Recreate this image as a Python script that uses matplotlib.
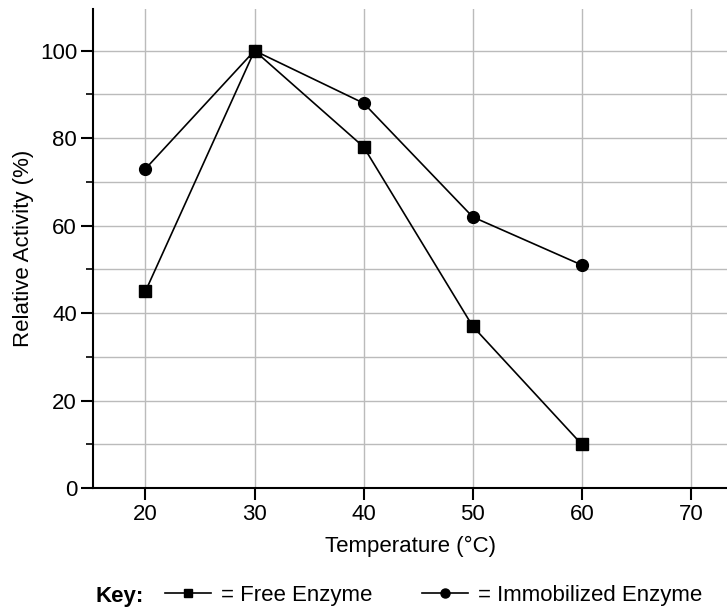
import numpy as np
import matplotlib
matplotlib.use('Agg')
import matplotlib.pyplot as plt
from matplotlib.lines import Line2D

plt.rcParams['font.family'] = ['Liberation Sans', 'DejaVu Sans']

temps = [20, 30, 40, 50, 60]
free_enzyme = [45, 100, 78, 37, 10]
immob_enzyme = [73, 100, 88, 62, 51]

x_ticks = [20, 30, 40, 50, 60, 70]
y_ticks = [0, 20, 40, 60, 80, 100]
y_minor = [10, 30, 50, 70, 90]

fig = plt.figure(figsize=(7.27, 6.08), dpi=100)
ax = fig.add_axes([0.128, 0.197, 0.872, 0.788])

ax.plot(temps, immob_enzyme, 'k-', marker='o', ms=8.5, lw=1.2, zorder=3)
ax.plot(temps, free_enzyme, 'k-', marker='s', ms=8, lw=1.2, zorder=3)

ax.set_xlim(15.2, 73.3)
ax.set_ylim(0, 109.5)
ax.set_xticks(x_ticks)
ax.set_yticks(y_ticks)
ax.set_yticks(y_minor, minor=True)
ax.grid(True, which='both', color='#bbbbbb', lw=1.0, zorder=0)
ax.grid(False, which='minor', axis='x')
ax.set_axisbelow(True)

for s in ['top', 'right']:
    ax.spines[s].set_visible(False)
for s in ['left', 'bottom']:
    ax.spines[s].set_linewidth(1.5)
ax.tick_params(axis='both', which='major', length=8.5, width=1.5, labelsize=16, pad=3)
ax.tick_params(axis='y', which='minor', length=5, width=1.2)

ax.set_xlabel('Temperature (°C)', fontsize=16, labelpad=8)
ax.set_ylabel('Relative Activity (%)', fontsize=16, labelpad=4)

fig.text(0.131, 0.01, 'Key:', fontsize=16, fontweight='bold', va='baseline')
handles = [Line2D([], [], color='k', lw=1.2, marker='s', ms=6),
           Line2D([], [], color='k', lw=1.2, marker='o', ms=6.5)]
fig.legend(handles, ['= Free Enzyme', '= Immobilized Enzyme'], ncol=2, frameon=False,
           loc='lower left', bbox_to_anchor=(0.205, -0.022), fontsize=16,
           handlelength=2.1, handletextpad=0.45, columnspacing=2.2, borderpad=0.2)

fig.savefig('out.png', dpi=100)
